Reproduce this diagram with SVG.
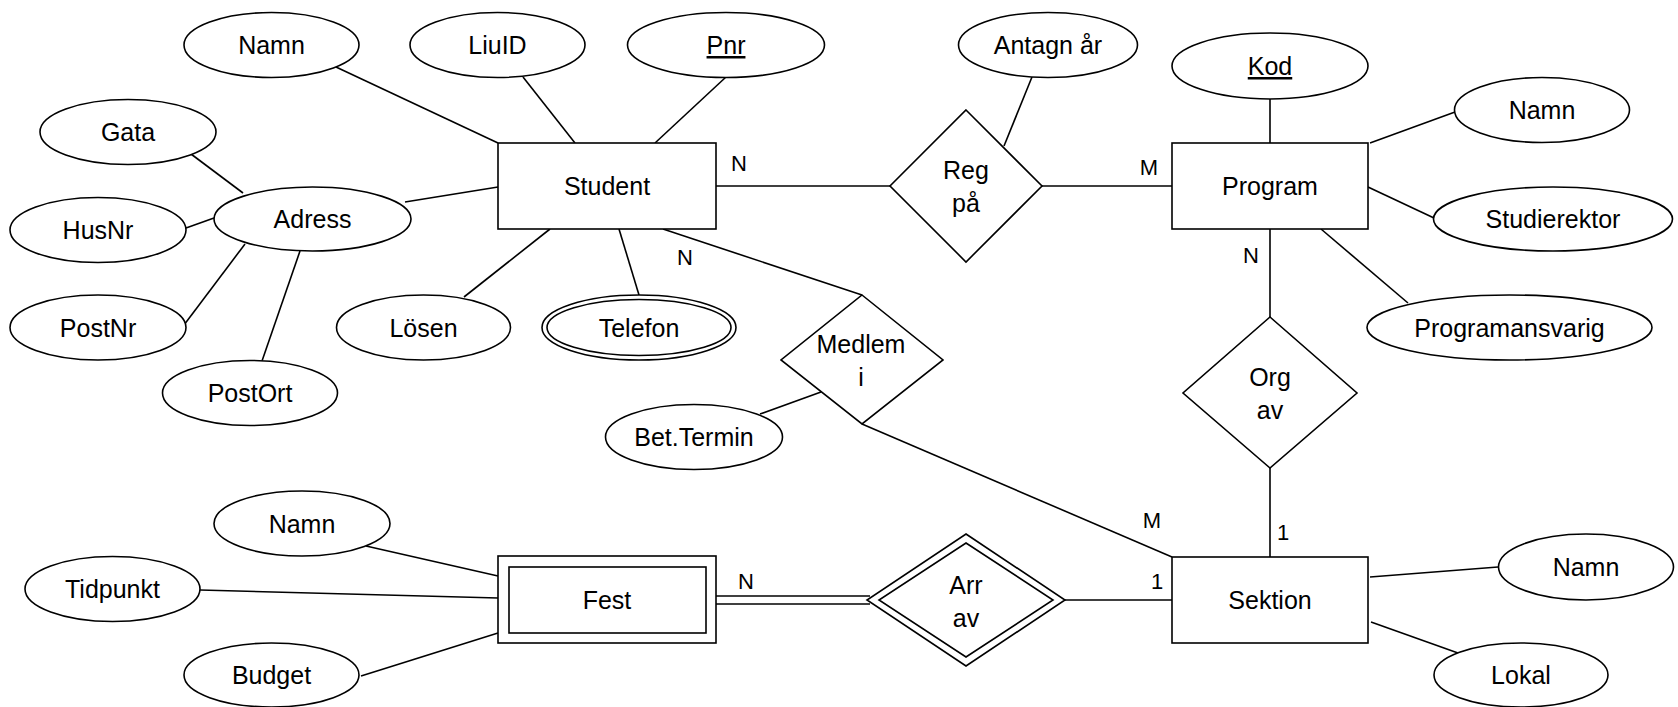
<svg xmlns="http://www.w3.org/2000/svg" width="1678" height="707" viewBox="0 0 1678 707">
<style>
  .s { fill: #ffffff; stroke: #000000; stroke-width: 1.6; }
  .c line { stroke: #000000; stroke-width: 1.6; }
  text { font-family: "Liberation Sans", Arial, Helvetica, sans-serif; font-size: 25px; fill: #000000; text-anchor: middle; }
  .card { font-size: 22px; }
  .u { text-decoration: underline; }
</style>
<rect width="1678" height="707" fill="#ffffff"/>
<g id="connectors" class="c">
  <line x1="336" y1="67" x2="498" y2="143"/>
  <line x1="523" y1="77" x2="575" y2="143"/>
  <line x1="726" y1="77" x2="655" y2="143"/>
  <line x1="191" y1="154" x2="243" y2="193"/>
  <line x1="186" y1="228" x2="214" y2="218"/>
  <line x1="184" y1="325" x2="245" y2="244"/>
  <line x1="262" y1="361" x2="300" y2="251"/>
  <line x1="405" y1="202" x2="498" y2="187"/>
  <line x1="464" y1="297" x2="550" y2="229"/>
  <line x1="619" y1="229" x2="639" y2="295"/>
  <line x1="716" y1="186" x2="890" y2="186"/>
  <line x1="1042" y1="186" x2="1172" y2="186"/>
  <line x1="1032" y1="77" x2="1004" y2="146"/>
  <line x1="1270" y1="99" x2="1270" y2="143"/>
  <line x1="1455" y1="112" x2="1370" y2="143"/>
  <line x1="1434" y1="218" x2="1368" y2="187"/>
  <line x1="1408" y1="303" x2="1321" y2="229"/>
  <line x1="1270" y1="229" x2="1270" y2="317"/>
  <line x1="1270" y1="468" x2="1270" y2="557"/>
  <line x1="663" y1="229" x2="862" y2="295"/>
  <line x1="862" y1="424" x2="1172" y2="557"/>
  <line x1="760" y1="414" x2="821" y2="392"/>
  <line x1="716" y1="596" x2="870" y2="596"/>
  <line x1="716" y1="604" x2="870" y2="604"/>
  <line x1="1065" y1="600" x2="1172" y2="600"/>
  <line x1="366" y1="546" x2="498" y2="576"/>
  <line x1="200" y1="590" x2="498" y2="598"/>
  <line x1="361" y1="676" x2="498" y2="633"/>
  <line x1="1370" y1="577" x2="1498" y2="567"/>
  <line x1="1371" y1="622" x2="1458" y2="653"/>
</g>
<g id="labels">
  <text class="card" x="739" y="171">N</text>
  <text class="card" x="1149" y="175">M</text>
  <text class="card" x="685" y="265">N</text>
  <text class="card" x="1251" y="263">N</text>
  <text class="card" x="746" y="589">N</text>
  <text class="card" x="1152" y="528">M</text>
  <text class="card" x="1157" y="589">1</text>
  <text class="card" x="1283" y="540">1</text>
</g>
<g id="student"><rect class="s" x="498" y="143" width="218" height="86"/><text x="607" y="195">Student</text></g>
<g id="program"><rect class="s" x="1172" y="143" width="196" height="86"/><text x="1270" y="195">Program</text></g>
<g id="sektion"><rect class="s" x="1172" y="557" width="196" height="86"/><text x="1270" y="609">Sektion</text></g>
<g id="fest"><rect class="s" x="498" y="556" width="218" height="87"/><rect class="s" x="509" y="567" width="197" height="66"/><text x="607" y="609">Fest</text></g>
<g id="regpa"><polygon class="s" points="966,110 1042,186 966,262 890,186"/><text x="966" y="179">Reg</text><text x="966" y="212">på</text></g>
<g id="medlemi"><polygon class="s" points="862,295 943,360 862,424 781,360"/><text x="861" y="353">Medlem</text><text x="861" y="386">i</text></g>
<g id="orgav"><polygon class="s" points="1270,317 1357,393 1270,468 1183,393"/><text x="1270" y="386">Org</text><text x="1270" y="419">av</text></g>
<g id="arrav"><polygon class="s" points="966,534 1065,600 966,666 867,600"/><polygon class="s" points="966,543 1053,600 966,657 879,600"/><text x="966" y="594">Arr</text><text x="966" y="627">av</text></g>
<g id="namn-student"><ellipse class="s" cx="271.5" cy="45" rx="87.5" ry="32.5"/><text x="271.5" y="54">Namn</text></g>
<g id="liuid"><ellipse class="s" cx="497.5" cy="45" rx="87.5" ry="32.5"/><text x="497.5" y="54">LiuID</text></g>
<g id="pnr"><ellipse class="s" cx="726" cy="45" rx="98.5" ry="32.5"/><text class="u" x="726" y="54">Pnr</text></g>
<g id="antagnar"><ellipse class="s" cx="1048" cy="45" rx="89.5" ry="32.5"/><text x="1048" y="54">Antagn år</text></g>
<g id="kod"><ellipse class="s" cx="1270" cy="66" rx="98" ry="33"/><text class="u" x="1270" y="75">Kod</text></g>
<g id="namn-program"><ellipse class="s" cx="1542" cy="110" rx="87.5" ry="32.5"/><text x="1542" y="119">Namn</text></g>
<g id="gata"><ellipse class="s" cx="128" cy="132" rx="88" ry="32.5"/><text x="128" y="141">Gata</text></g>
<g id="husnr"><ellipse class="s" cx="98" cy="230" rx="88" ry="32.5"/><text x="98" y="239">HusNr</text></g>
<g id="adress"><ellipse class="s" cx="312.5" cy="219" rx="98.5" ry="32"/><text x="312.5" y="228">Adress</text></g>
<g id="postnr"><ellipse class="s" cx="98" cy="327.5" rx="88" ry="32.5"/><text x="98" y="336.5">PostNr</text></g>
<g id="postort"><ellipse class="s" cx="250" cy="393" rx="87.5" ry="32.5"/><text x="250" y="402">PostOrt</text></g>
<g id="losen"><ellipse class="s" cx="423.5" cy="327.5" rx="87" ry="32.5"/><text x="423.5" y="336.5">Lösen</text></g>
<g id="telefon"><ellipse class="s" cx="639" cy="327.5" rx="97" ry="32.5"/><ellipse class="s" cx="639" cy="327.5" rx="92" ry="28"/><text x="639" y="336.5">Telefon</text></g>
<g id="bettermin"><ellipse class="s" cx="694" cy="437" rx="88.5" ry="32.5"/><text x="694" y="446">Bet.Termin</text></g>
<g id="studierektor"><ellipse class="s" cx="1553" cy="219" rx="119.5" ry="32"/><text x="1553" y="228">Studierektor</text></g>
<g id="programansvarig"><ellipse class="s" cx="1509.5" cy="327.5" rx="142.5" ry="32.5"/><text x="1509.5" y="336.5">Programansvarig</text></g>
<g id="namn-fest"><ellipse class="s" cx="302" cy="523.5" rx="88" ry="32.5"/><text x="302" y="532.5">Namn</text></g>
<g id="tidpunkt"><ellipse class="s" cx="112.5" cy="589" rx="87.5" ry="32.5"/><text x="112.5" y="598">Tidpunkt</text></g>
<g id="budget"><ellipse class="s" cx="271.5" cy="675" rx="87.5" ry="32"/><text x="271.5" y="684">Budget</text></g>
<g id="namn-sektion"><ellipse class="s" cx="1586" cy="567" rx="87.5" ry="33"/><text x="1586" y="576">Namn</text></g>
<g id="lokal"><ellipse class="s" cx="1521" cy="675" rx="87" ry="32"/><text x="1521" y="684">Lokal</text></g>
</svg>
